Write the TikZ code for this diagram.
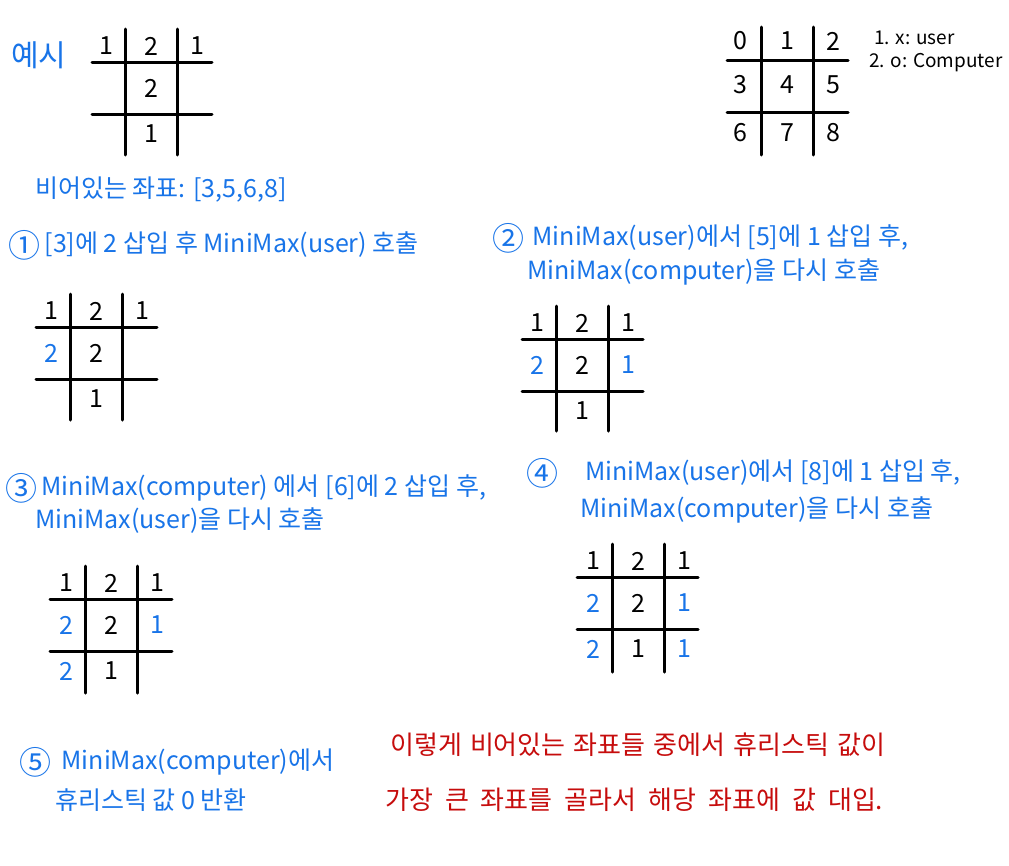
\documentclass[tikz,border=0pt]{standalone}
\usepackage{fontspec}
\newfontfamily\krfont{Noto Sans CJK KR}
\usetikzlibrary{positioning}
\definecolor{penblue}{RGB}{24,116,232}
\definecolor{penred}{RGB}{198,12,12}

\begin{document}
\begin{tikzpicture}[
    x=1pt, y=-1pt,
    every node/.style={font=\krfont\fontsize{25}{28}\selectfont, inner sep=0pt},
    gridline/.style={line width=3pt, line cap=round},
    oldmove/.style={text=black},
    newmove/.style={text=penblue},
    pen/.style={text=penblue, anchor=west},
    stepnum/.style={text=penblue, anchor=west, font=\krfont\fontsize{32}{32}\selectfont},
    remark/.style={text=penred, anchor=west, font=\krfont\fontsize{26}{28}\selectfont},
    legend/.style={anchor=west, font=\krfont\fontsize{19}{20}\selectfont}
]
\useasboundingbox (0,0) rectangle (1009,865);

% example board
\node[pen, font=\krfont\fontsize{30}{32}\selectfont] (title) at (11,55) {예시};
\begin{scope}[shift={(125,62)}, name prefix=ex-]
  \foreach \k in {0,52} {
    \draw[gridline] (\k,-33) -- (\k,93);
    \draw[gridline] (-33,\k) -- (87,\k);
  }
  \node[oldmove] (c0) at (-19,-16) {1};
  \node[oldmove] (c1) at (26,-16) {2};
  \node[oldmove] (c2) at (72,-16) {1};
  \node[oldmove] (c4) at (26,26) {2};
  \node[oldmove] (c7) at (26,72) {1};
\end{scope}
\node[pen] (empty) at (35,190) {비어있는 좌표: [3,5,6,8]};

% index board and legend
\begin{scope}[shift={(761,60)}, name prefix=idx-]
  \foreach \k in {0,52} {
    \draw[gridline] (\k,-33) -- (\k,95);
    \draw[gridline] (-34,\k) -- (87,\k);
  }
  \node (c0) at (-21,-19) {0};
  \node (c1) at (26,-19) {1};
  \node (c2) at (72,-19) {2};
  \node (c3) at (-21,25) {3};
  \node (c4) at (26,25) {4};
  \node (c5) at (72,25) {5};
  \node (c6) at (-21,73) {6};
  \node (c7) at (26,73) {7};
  \node (c8) at (72,73) {8};
\end{scope}
\node[legend] (lg1) at (874,38) {1. x: user};
\node[legend] (lg2) at (869,63) {2. o: Computer};

% step 1
\node[stepnum] (n1) at (8,245) {①};
\node[pen, right=4pt of n1] (s1) {[3]에 2 삽입 후 MiniMax(user) 호출};
\begin{scope}[shift={(70,327)}, name prefix=b1-]
  \foreach \k in {0,52} {
    \draw[gridline] (\k,-33) -- (\k,93);
    \draw[gridline] (-34,\k) -- (87,\k);
  }
  \node[oldmove] (c0) at (-19,-16) {1};
  \node[oldmove] (c1) at (26,-16) {2};
  \node[oldmove] (c2) at (72,-16) {1};
  \node[newmove] (c3) at (-19,26) {2};
  \node[oldmove] (c4) at (26,26) {2};
  \node[oldmove] (c7) at (26,72) {1};
\end{scope}

% step 2
\node[stepnum] (n2) at (492,238) {②};
\node[pen, right=8pt of n2] (s2a) {MiniMax(user)에서 [5]에 1 삽입 후,};
\node[pen] (s2b) at (527,272) {MiniMax(computer)을 다시 호출};
\begin{scope}[shift={(556,339)}, name prefix=b2-]
  \foreach \k in {0,52} {
    \draw[gridline] (\k,-33) -- (\k,92);
    \draw[gridline] (-34,\k) -- (87,\k);
  }
  \node[oldmove] (c0) at (-19,-16) {1};
  \node[oldmove] (c1) at (26,-16) {2};
  \node[oldmove] (c2) at (72,-16) {1};
  \node[newmove] (c3) at (-19,26) {2};
  \node[oldmove] (c4) at (26,26) {2};
  \node[newmove] (c5) at (72,26) {1};
  \node[oldmove] (c7) at (26,72) {1};
\end{scope}

% step 3
\node[stepnum] (n3) at (5,488) {③};
\node[pen, right=4pt of n3] (s3a) {MiniMax(computer) 에서 [6]에 2 삽입 후,};
\node[pen] (s3b) at (35,521) {MiniMax(user)을 다시 호출};
\begin{scope}[shift={(85,599)}, name prefix=b3-]
  \foreach \k in {0,52} {
    \draw[gridline] (\k,-33) -- (\k,94);
    \draw[gridline] (-35,\k) -- (87,\k);
  }
  \node[oldmove] (c0) at (-19,-16) {1};
  \node[oldmove] (c1) at (26,-16) {2};
  \node[oldmove] (c2) at (72,-16) {1};
  \node[newmove] (c3) at (-19,26) {2};
  \node[oldmove] (c4) at (26,26) {2};
  \node[newmove] (c5) at (72,26) {1};
  \node[newmove] (c6) at (-19,72) {2};
  \node[oldmove] (c7) at (26,72) {1};
\end{scope}

% step 4
\node[stepnum] (n4) at (526,473) {④};
\node[pen] (s4a) at (585,473) {MiniMax(user)에서 [8]에 1 삽입 후,};
\node[pen] (s4b) at (580,510) {MiniMax(computer)을 다시 호출};
\begin{scope}[shift={(612,577)}, name prefix=b4-]
  \foreach \k in {0,52} {
    \draw[gridline] (\k,-33) -- (\k,95);
    \draw[gridline] (-35,\k) -- (86,\k);
  }
  \node[oldmove] (c0) at (-19,-16) {1};
  \node[oldmove] (c1) at (26,-16) {2};
  \node[oldmove] (c2) at (72,-16) {1};
  \node[newmove] (c3) at (-19,26) {2};
  \node[oldmove] (c4) at (26,26) {2};
  \node[newmove] (c5) at (72,26) {1};
  \node[newmove] (c6) at (-19,72) {2};
  \node[oldmove] (c7) at (26,72) {1};
  \node[newmove] (c8) at (72,72) {1};
\end{scope}

% step 5
\node[stepnum] (n5) at (19,762) {⑤};
\node[pen, right=10pt of n5] (s5a) {MiniMax(computer)에서};
\node[pen] (s5b) at (55,800) {휴리스틱 값 0 반환};

% conclusion
\node[remark] (end1) at (390,745) {\makebox[495pt][s]{이렇게 비어있는 좌표들 중에서 휴리스틱 값이}};
\node[remark] (end2) at (385,800) {\makebox[498pt][s]{가장 큰 좌표를 골라서 해당 좌표에 값 대입.}};
\end{tikzpicture}
\end{document}
